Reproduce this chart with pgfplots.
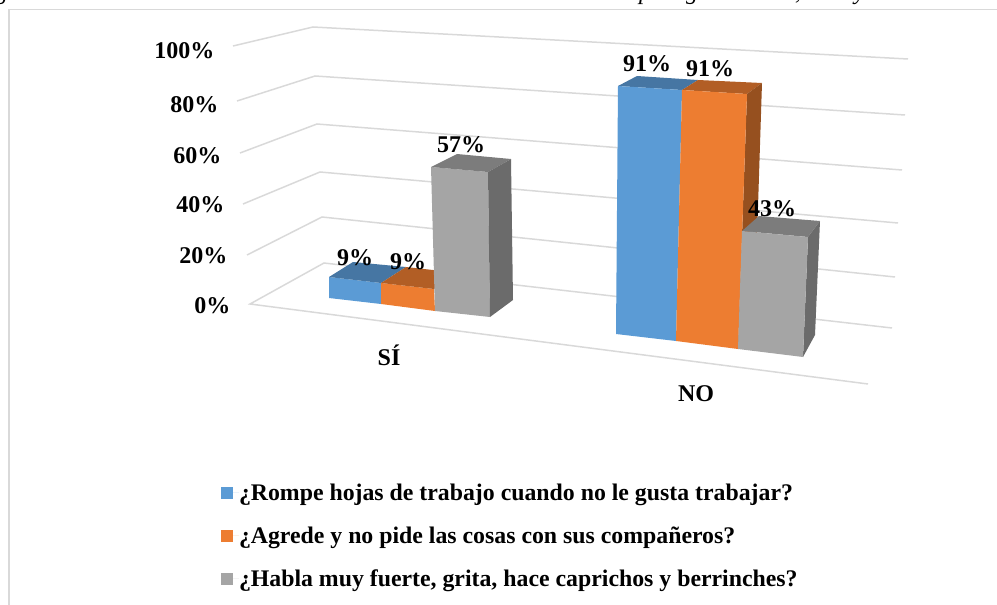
\documentclass[border=0pt]{standalone}
\usepackage{pgfplots}
\pgfplotsset{compat=1.18}
\usepackage{fontspec}
\setmainfont{Liberation Serif}
\definecolor{gridc}{HTML}{D9D9D9}
\definecolor{bf}{HTML}{5B9BD5}
\definecolor{bt}{HTML}{4676A3}
\definecolor{of}{HTML}{ED7D31}
\definecolor{ot}{HTML}{B25E25}
\definecolor{os}{HTML}{96501F}
\definecolor{gf}{HTML}{A5A5A5}
\definecolor{gt}{HTML}{7C7C7C}
\definecolor{gs}{HTML}{6B6B6B}
\newcommand{\lab}{\fontsize{24}{27}\selectfont\bfseries}
\newcommand{\leg}{\fontsize{23.8}{27}\selectfont\bfseries}
\newcommand{\topt}{\fontsize{24}{27}\selectfont\itshape}
\begin{document}
\begin{tikzpicture}[x=1pt,y=1pt]
\clip (0,0) rectangle (997pt,605pt);
\begin{axis}[
  at={(0,0)}, anchor=south west,
  scale only axis, width=997pt, height=605pt,
  xmin=0, xmax=997, ymin=0, ymax=605, y dir=reverse,
  axis lines=none, clip=true, clip mode=global,
  legend cell align=left,
  legend style={at={(axis cs:221,483.5)}, anchor=north west, draw=none, fill=none,
    font=\leg, row sep=25pt, inner sep=0pt, outer sep=0pt,
    nodes={inner sep=0pt, outer sep=0pt}},
  legend image code/.code={\fill[#1] (0pt,-6pt) rectangle (12pt,6pt); \path (0pt,0pt) -- (18pt,0pt);},
]
% frame
\addplot[forget plot, draw=gridc, line width=1.6pt] coordinates {(9,605) (9,9.5) (997,9.5)};
% back walls and floor grid
\addplot[forget plot, draw=gridc, line width=1.5pt] coordinates {(233,46) (313,27) (908,59)};
\addplot[forget plot, draw=gridc, line width=1.5pt] coordinates {(237,101) (315,76) (905,115)};
\addplot[forget plot, draw=gridc, line width=1.5pt] coordinates {(240,153) (317,124) (902,170)};
\addplot[forget plot, draw=gridc, line width=1.5pt] coordinates {(243,204) (320,172) (898,223)};
\addplot[forget plot, draw=gridc, line width=1.5pt] coordinates {(247,255) (322,217) (895,277)};
\addplot[forget plot, draw=gridc, line width=1.5pt] coordinates {(892,328) (324,263) (250,304) (868,384)};
% SI: 9, 9, 57
\addplot[fill=bf, draw=none] coordinates {(329,277) (381,283) (381,304) (329,298)} -- cycle;
\addlegendentry{¿Rompe hojas de trabajo cuando no le gusta trabajar?}
\addplot[forget plot, fill=bt, draw=none] coordinates {(329,277) (353,262) (406,267) (381,283)} -- cycle;
\addplot[fill=of, draw=none] coordinates {(381,283) (434,289) (435,311) (381,304)} -- cycle;
\addlegendentry{¿Agrede y no pide las cosas con sus compañeros?}
\addplot[forget plot, fill=ot, draw=none] coordinates {(381,283) (406,267) (460,273) (434,289)} -- cycle;
\addplot[fill=gf, draw=none] coordinates {(431,167) (488,172) (490,317) (435,311)} -- cycle;
\addlegendentry{¿Habla muy fuerte, grita, hace caprichos y berrinches?}
\addplot[forget plot, fill=gt, draw=none] coordinates {(431,167) (457,154) (511,159) (488,172)} -- cycle;
\addplot[forget plot, fill=gs, draw=none] coordinates {(488,172) (511,159) (513,300) (490,317)} -- cycle;
% NO: 91, 91, 43
\addplot[forget plot, fill=bt, draw=none] coordinates {(618,86) (637,76) (698,80) (682,90)} -- cycle;
\addplot[forget plot, fill=bf, draw=none] coordinates {(618,86) (682,90) (676,341) (616,334)} -- cycle;
\addplot[forget plot, fill=ot, draw=none] coordinates {(682,90) (698,80) (762,83) (747,94)} -- cycle;
\addplot[forget plot, fill=os, draw=none] coordinates {(747,94) (762,83) (755,300) (738,349)} -- cycle;
\addplot[forget plot, fill=of, draw=none] coordinates {(682,90) (747,94) (738,349) (676,341)} -- cycle;
\addplot[forget plot, fill=gt, draw=none] coordinates {(742,231) (759,216) (820,221) (808,237)} -- cycle;
\addplot[forget plot, fill=gs, draw=none] coordinates {(808,237) (820,221) (815,335) (803,357)} -- cycle;
\addplot[forget plot, fill=gf, draw=none] coordinates {(742,231) (808,237) (803,357) (738,349)} -- cycle;
% axis labels
\node[anchor=east,font=\lab] at (axis cs:218,51) {100\%};
\node[anchor=east,font=\lab] at (axis cs:222,105) {80\%};
\node[anchor=east,font=\lab] at (axis cs:225,156) {60\%};
\node[anchor=east,font=\lab] at (axis cs:228,205) {40\%};
\node[anchor=east,font=\lab] at (axis cs:231,256) {20\%};
\node[anchor=east,font=\lab] at (axis cs:234,306) {0\%};
\node[font=\lab] at (axis cs:389,355) {SÍ};
\node[font=\lab] at (axis cs:696,394) {NO};
% data labels
\node[font=\lab] at (axis cs:355,258) {9\%};
\node[font=\lab] at (axis cs:408,262) {9\%};
\node[font=\lab] at (axis cs:461,145) {57\%};
\node[font=\lab] at (axis cs:647,64) {91\%};
\node[font=\lab] at (axis cs:710,69) {91\%};
\node[font=\lab] at (axis cs:772,209) {43\%};
% bottom edge of the caption line, cut off by the top of the picture
\node[anchor=base,font=\topt,inner sep=0pt] at (axis cs:2,-1) {g};
\node[anchor=base,font=\topt,inner sep=0pt] at (axis cs:645,-1) {p};
\node[anchor=base,font=\topt,inner sep=0pt] at (axis cs:692,-1) {g};
\node[anchor=base,font=\topt,inner sep=0pt] at (axis cs:798,-1) {,};
\node[anchor=base,font=\topt,inner sep=0pt] at (axis cs:860,-1) {y};
\end{axis}
\end{tikzpicture}
\end{document}
